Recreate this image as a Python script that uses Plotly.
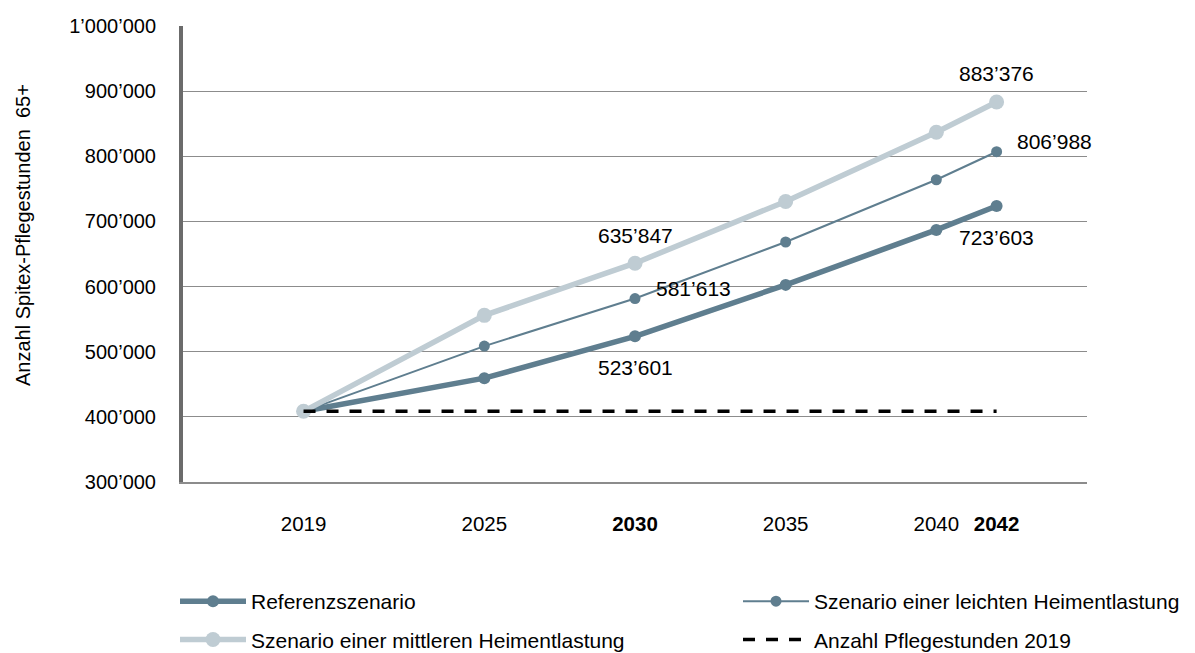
import plotly.graph_objects as go

# ---- data ----
years = [2019, 2025, 2030, 2035, 2040, 2042]
referenz = [408500, 459400, 523601, 602600, 687000, 723603]
leicht = [408500, 508600, 581613, 668400, 764000, 806988]
mittel = [408500, 555800, 635847, 730700, 837000, 883376]
basis_years = [2019, 2042]
basis = [408500, 408500]

series_names = [
    "Referenzszenario",
    "Szenario einer leichten Heimentlastung",
    "Szenario einer mittleren Heimentlastung",
    "Anzahl Pflegestunden 2019",
]

y_ticks = [300000, 400000, 500000, 600000, 700000, 800000, 900000, 1000000]
y_tick_labels = ["300’000", "400’000", "500’000", "600’000", "700’000",
                 "800’000", "900’000", "1’000’000"]
x_tick_labels = ["2019", "2025", "<b>2030</b>", "2035", "2040", "<b>2042</b>"]
y_title = "Anzahl Spitex-Pflegestunden  65+"

# labelled points: (series, year)
labelled = [("mittel", 2042), ("leicht", 2042), ("referenz", 2042),
            ("mittel", 2030), ("leicht", 2030), ("referenz", 2030)]

# ---- styling ----
DARK = "#5f7e8f"
LIGHT = "#bfccd3"
FONT = "Liberation Sans, Arial, sans-serif"
W, H = 1195, 645
ML, MR, MT, MB = 175, 116, 18, 171

fig = go.Figure()
fig.add_trace(go.Scatter(
    x=years, y=referenz, name=series_names[0], mode="lines+markers",
    line=dict(color=DARK, width=5.5), marker=dict(color=DARK, size=12),
    legend="legend", legendgroup="a"))
fig.add_trace(go.Scatter(
    x=years, y=leicht, name=series_names[1], mode="lines+markers",
    line=dict(color=DARK, width=2), marker=dict(color=DARK, size=11),
    legend="legend2", legendgroup="b"))
fig.add_trace(go.Scatter(
    x=years, y=mittel, name=series_names[2], mode="lines+markers",
    line=dict(color=LIGHT, width=5.5), marker=dict(color=LIGHT, size=15),
    legend="legend", legendgroup="c"))
fig.add_trace(go.Scatter(
    x=basis_years, y=basis, name=series_names[3], mode="lines",
    line=dict(color="black", width=3.5, dash="12px,11px"),
    legend="legend2", legendgroup="d"))

data_map = {"referenz": referenz, "leicht": leicht, "mittel": mittel}
shift_map = {"mittel": (0, 28), "leicht": (58, 10), "referenz": (0, -31)}
for key, yr in labelled:
    v = data_map[key][years.index(yr)]
    xs, ys = shift_map[key]
    fig.add_annotation(
        x=yr, y=v, xref="x", yref="y", text=f"{v:,}".replace(",", "’"),
        showarrow=False, xshift=xs, yshift=ys, xanchor="center",
        yanchor="middle", font=dict(family=FONT, size=21, color="black"))

plot_w = W - ML - MR
plot_h = H - MT - MB
fig.add_annotation(
    x=(15.5 - ML) / plot_w, y=(H - MB - 227.5) / plot_h,
    xref="paper", yref="paper", text=y_title, textangle=-90, showarrow=False,
    xanchor="center", yanchor="middle",
    font=dict(family=FONT, size=20, color="black"))

legend_common = dict(
    orientation="v", xref="container", yref="container",
    xanchor="left", yanchor="top", itemwidth=66, tracegroupgap=8,
    font=dict(family=FONT, size=21, color="black"),
    bgcolor="rgba(0,0,0,0)")

fig.update_layout(
    width=W, height=H,
    margin=dict(l=ML, r=MR, t=MT, b=MB, autoexpand=False),
    paper_bgcolor="white", plot_bgcolor="white",
    font=dict(family=FONT, size=20, color="black"),
    showlegend=True,
    legend=dict(x=167 / W, y=1 - 573 / H, **legend_common),
    legend2=dict(x=730 / W, y=1 - 573 / H, **legend_common),
    xaxis=dict(
        range=[2015, 2045], tickvals=years, ticktext=x_tick_labels,
        showgrid=False, zeroline=False, showline=True, linecolor="#8c8c8c",
        linewidth=2, ticks="", ticklabelstandoff=22, automargin=False,
        tickfont=dict(family=FONT, size=20.5, color="black")),
    yaxis=dict(
        range=[300000, 1000000], tickvals=y_ticks, ticktext=y_tick_labels,
        showgrid=True, gridcolor="#8c8c8c", gridwidth=1.3, zeroline=False,
        showline=True, linecolor="#6b6b6b", linewidth=4, ticks="",
        ticklabelstandoff=19, automargin=False,
        tickfont=dict(family=FONT, size=20, color="black")),
)

fig.write_html("out.html")
